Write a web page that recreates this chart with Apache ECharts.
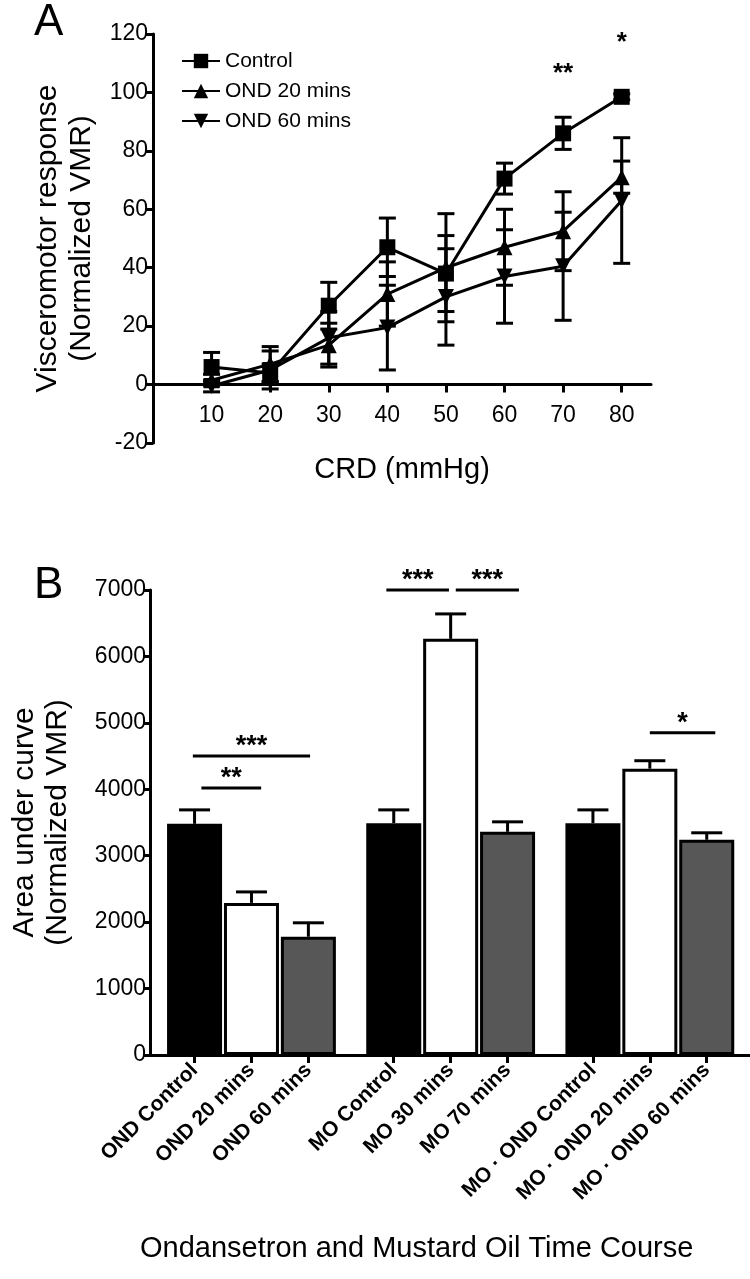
<!DOCTYPE html>
<html>
<head>
<meta charset="utf-8">
<script src="https://cdn.jsdelivr.net/npm/echarts@6.0.0/dist/echarts.min.js"></script>
<style>
  html, body { margin: 0; padding: 0; background: #fff; }
  #main { width: 750px; height: 1279px; }
</style>
</head>
<body>
<div id="main"></div>
<script>
// panel A : visceromotor response vs CRD
var crd = [10, 20, 30, 40, 50, 60, 70, 80];
var controlMean = [6, 4, 27, 47, 38, 70.5, 86, 98.5];
var controlSem = [5, 3, 8, 10, 13, 5.3, 5.5, 1];
var ond20Mean = [1.5, 7, 13.5, 31, 40, 47, 52.5, 71];
var ond20Sem = [2, 6, 7.5, 11, 18.5, 13, 13.5, 5.5];
var ond60Mean = [-0.5, 5, 16, 19.5, 30, 37, 40.5, 63];
var ond60Sem = [2, 6.5, 9, 14.5, 16.5, 16, 18.5, 21.5];
var starsA = [[70, 106.5, "**"], [80, 117, "*"]];

// panel B : area under curve
var barLabels = ["OND Control", "OND 20 mins", "OND 60 mins",
  "MO Control", "MO 30 mins", "MO 70 mins",
  "MO · OND Control", "MO · OND 20 mins", "MO · OND 60 mins"];
var aucMean = [3480, 2290, 1780, 3490, 6265, 3360, 3490, 4310, 3240];
var aucSem = [210, 165, 210, 200, 375, 150, 200, 120, 105];
// significance bars: [from, to, height, label] (x in bar slots)
var sigB = [[1.12, 2.17, 4020, "**"], [0.97, 3.03, 4500, "***"],
  [4.37, 5.47, 7000, "***"], [5.59, 6.7, 7000, "***"], [9.0, 10.15, 4850, "*"]];

var fills = ["#000000", "#ffffff", "#575757"];
// 3 bars per group, half a slot between groups
var barPos = barLabels.map(function (d, i) { return 1 + i + 0.5 * Math.floor(i / 3); });

var titleFont = "Liberation Sans, Arial, sans-serif";
var tickFont = "Liberation Sans, Arial, sans-serif";

function pairs(xs, ys, es) {
  return xs.map(function (x, i) { return es ? [x, ys[i], es[i]] : [x, ys[i]]; });
}

function errBoth(params, api) {
  var x = api.value(0), y = api.value(1), e = api.value(2);
  var lo = api.coord([x, y - e]), hi = api.coord([x, y + e]);
  var w = 8.5, st = { stroke: "#000", lineWidth: 3 };
  return { type: "group", children: [
    { type: "line", shape: { x1: lo[0], y1: lo[1], x2: hi[0], y2: hi[1] }, style: st },
    { type: "line", shape: { x1: lo[0] - w, y1: lo[1], x2: lo[0] + w, y2: lo[1] }, style: st },
    { type: "line", shape: { x1: hi[0] - w, y1: hi[1], x2: hi[0] + w, y2: hi[1] }, style: st }
  ] };
}

function errUp(params, api) {
  var x = api.value(0), y = api.value(1), e = api.value(2);
  var lo = api.coord([x, y]), hi = api.coord([x, y + e]);
  var w = 15.5, st = { stroke: "#000", lineWidth: 3 };
  return { type: "group", children: [
    { type: "line", shape: { x1: lo[0], y1: lo[1], x2: hi[0], y2: hi[1] }, style: st },
    { type: "line", shape: { x1: hi[0] - w, y1: hi[1], x2: hi[0] + w, y2: hi[1] }, style: st }
  ] };
}

function sigRender(params, api) {
  var a = api.coord([api.value(0), api.value(2)]);
  var b = api.coord([api.value(1), api.value(2)]);
  return { type: "group", children: [
    { type: "line", shape: { x1: a[0], y1: a[1], x2: b[0], y2: b[1] }, style: { stroke: "#000", lineWidth: 3 } },
    { type: "text", x: (a[0] + b[0]) / 2, y: a[1] + 4,
      style: { text: sigB[params.dataIndex][3], fill: "#000", font: "bold 27px " + titleFont, align: "center", verticalAlign: "bottom" } }
  ] };
}

function starRender(params, api) {
  var p = api.coord([api.value(0), api.value(1)]);
  return { type: "text", x: p[0], y: p[1],
    style: { text: starsA[params.dataIndex][2], fill: "#000", font: "bold 26px " + titleFont, align: "center", verticalAlign: "middle" } };
}

var lineBase = {
  type: "line", xAxisIndex: 0, yAxisIndex: 0, symbolSize: 16, z: 5,
  lineStyle: { color: "#000", width: 3 }, itemStyle: { color: "#000" }
};

var option = {
  animation: false,
  backgroundColor: "#fff",
  grid: [
    { left: 153, top: 34, width: 498, height: 409 },
    { left: 144, top: 590, width: 606, height: 465 }
  ],
  legend: {
    data: ["Control", "OND 20 mins", "OND 60 mins"],
    orient: "vertical", left: 176, top: 44,
    itemWidth: 38, itemHeight: 18, itemGap: 6,
    textStyle: { fontSize: 21, color: "#000", fontFamily: tickFont, lineHeight: 24 }
  },
  xAxis: [
    {
      type: "value", gridIndex: 0, min: 0, max: 85,
      axisLine: { onZero: true, lineStyle: { color: "#000", width: 3 } },
      axisTick: { length: 8, lineStyle: { width: 3 }, customValues: crd },
      axisLabel: { color: "#000", fontSize: 23, fontFamily: tickFont, margin: -39, customValues: crd },
      splitLine: { show: false },
      name: "CRD (mmHg)", nameLocation: "middle", nameGap: 12,
      nameTextStyle: { fontSize: 29, color: "#000", fontFamily: titleFont }
    },
    {
      type: "value", gridIndex: 1, min: 0.217, max: 10.76,
      axisLine: { lineStyle: { color: "#000", width: 3 } },
      axisTick: { length: 8, lineStyle: { width: 3 }, customValues: barPos },
      axisLabel: {
        color: "#000", fontSize: 21, fontWeight: "bold", fontFamily: tickFont, rotate: 45, margin: 12,
        customValues: barPos,
        formatter: function (v) {
          var i = barPos.indexOf(v);
          return i < 0 ? "" : barLabels[i];
        }
      },
      splitLine: { show: false }
    }
  ],
  yAxis: [
    {
      type: "value", gridIndex: 0, min: -20, max: 120, interval: 20,
      axisLine: { show: true, lineStyle: { color: "#000", width: 3 } },
      axisTick: { show: true, length: 8, lineStyle: { width: 3 } },
      axisLabel: { color: "#000", fontSize: 23, fontFamily: tickFont, margin: 5 },
      splitLine: { show: false },
      name: "Visceromotor response\n(Normalized VMR)", nameLocation: "middle", nameGap: 53,
      nameTextStyle: { fontSize: 30, lineHeight: 34, color: "#000", fontFamily: titleFont }
    },
    {
      type: "value", gridIndex: 1, min: 0, max: 7000, interval: 1000,
      axisLine: { show: true, lineStyle: { color: "#000", width: 3 } },
      axisTick: { show: true, length: 7, lineStyle: { width: 3 } },
      axisLabel: { color: "#000", fontSize: 23, fontFamily: tickFont, margin: 4,
        formatter: function (v) { return String(v); } },
      splitLine: { show: false },
      name: "Area under curve\n(Normalized VMR)", nameLocation: "middle", nameGap: 76,
      nameTextStyle: { fontSize: 30, lineHeight: 33, color: "#000", fontFamily: titleFont }
    }
  ],
  graphic: [
    { type: "text", left: 34, top: 1, style: { text: "A", font: "44px " + titleFont, fill: "#000" } },
    { type: "text", left: 34, top: 564, style: { text: "B", font: "44px " + titleFont, fill: "#000" } },
    { type: "text", left: 140, top: 1234, style: { text: "Ondansetron and Mustard Oil Time Course", font: "29px " + titleFont, fill: "#000" } }
  ],
  series: [
    { type: "custom", xAxisIndex: 0, yAxisIndex: 0, renderItem: errBoth, data: pairs(crd, controlMean, controlSem), z: 3 },
    { type: "custom", xAxisIndex: 0, yAxisIndex: 0, renderItem: errBoth, data: pairs(crd, ond20Mean, ond20Sem), z: 3 },
    { type: "custom", xAxisIndex: 0, yAxisIndex: 0, renderItem: errBoth, data: pairs(crd, ond60Mean, ond60Sem), z: 3 },
    Object.assign({}, lineBase, { name: "Control", symbol: "rect", data: pairs(crd, controlMean) }),
    Object.assign({}, lineBase, { name: "OND 20 mins", symbol: "triangle", data: pairs(crd, ond20Mean) }),
    Object.assign({}, lineBase, { name: "OND 60 mins", symbol: "triangle", symbolRotate: 180, data: pairs(crd, ond60Mean) }),
    { type: "custom", xAxisIndex: 0, yAxisIndex: 0, renderItem: starRender, data: starsA.map(function (s) { return [s[0], s[1]]; }) },
    {
      type: "bar", xAxisIndex: 1, yAxisIndex: 1, barWidth: 55,
      data: barPos.map(function (p, i) {
        return { value: [p, aucMean[i]], itemStyle: { color: fills[i % 3], borderColor: "#000", borderWidth: 3 } };
      }),
      z: 2
    },
    { type: "custom", xAxisIndex: 1, yAxisIndex: 1, renderItem: errUp, data: pairs(barPos, aucMean, aucSem), z: 1 },
    { type: "custom", xAxisIndex: 1, yAxisIndex: 1, renderItem: sigRender, data: sigB.map(function (s) { return [s[0], s[1], s[2]]; }) }
  ]
};

var chart = echarts.init(document.getElementById("main"));
chart.setOption(option);
</script>
</body>
</html>
